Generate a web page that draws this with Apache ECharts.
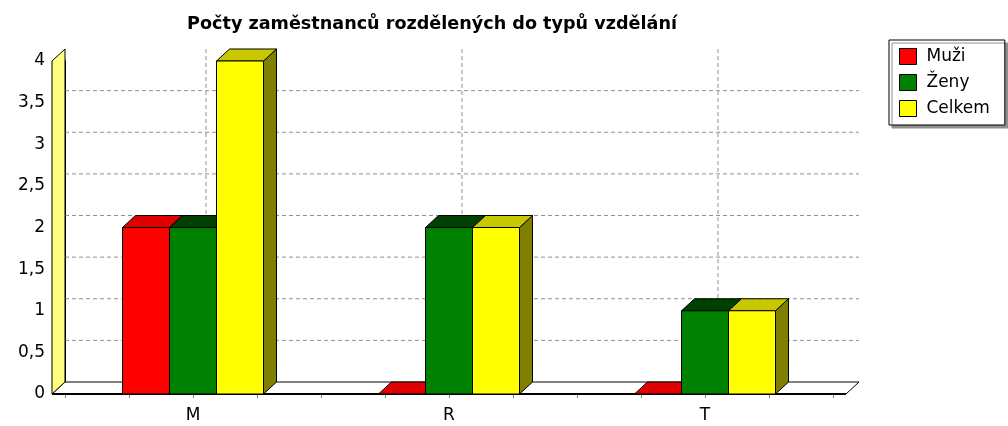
<!DOCTYPE html>
<html>
<head>
	<meta charset="utf-8" />
	<title>Počty zaměstnanců</title>
	<script src="https://cdn.jsdelivr.net/npm/echarts@6/dist/echarts.min.js"></script>
	<style>
		html, body { margin: 0; padding: 0; background: #fff; }
		#chartmain { width: 1008px; height: 426px; }
	</style>
</head>
<body>
	<div id="chartmain"></div>
</body>
<script type="text/javascript">
	// data
	var categories = ['M', 'R', 'T'];
	var muzi = [2, 0, 0];
	var zeny = [2, 2, 1];
	var celkem = [4, 2, 1];
	var gridValues = [0.5, 1, 1.5, 2, 2.5, 3, 3.5];

	var names = ['Muži', 'Ženy', 'Celkem'];
	var front = ['#ff0000', '#008000', '#ffff00'];
	var top_ = ['#e00000', '#004000', '#c8c800'];
	var side = ['#800000', '#004000', '#808000'];

	var D = 13, DY = 12;      // 3d depth
	var barFrac = 47 / 256;   // bar width in a band
	var font = 'DejaVu Sans';

	function fmt(v) { return String(v).replace('.', ','); }

	// floor, walls, grid on the back wall
	function renderDecor(params, api) {
		var cs = params.coordSys;
		var y0 = api.coord([0, 0])[1];
		var yTop = api.coord([0, 4])[1];
		var l = cs.x - D, r = cs.x + cs.width + D;
		var dash = { stroke: '#909090', lineWidth: 1, lineDash: [4, 3] };
		var kids = [];
		kids.push({ type: 'polygon', shape: { points: [[l, y0], [r, y0], [r + D, y0 - DY], [l + D, y0 - DY]] },
			style: { fill: '#fff', stroke: '#000', lineWidth: 1 } });
		gridValues.forEach(function (v) {
			var y = api.coord([0, v])[1] - DY;
			kids.push({ type: 'line', shape: { x1: l + D, y1: y, x2: r + D, y2: y }, style: dash });
		});
		categories.forEach(function (c, i) {
			var x = api.coord([i, 0])[0] + D;
			kids.push({ type: 'line', shape: { x1: x, y1: yTop - DY, x2: x, y2: y0 - DY }, style: dash });
		});
		kids.push({ type: 'polygon', shape: { points: [[l, y0], [l, yTop], [l + D, yTop - DY], [l + D, y0 - DY]] },
			style: { fill: '#ffff80', stroke: '#000', lineWidth: 1 } });
		kids.push({ type: 'line', shape: { x1: l, y1: y0, x2: r, y2: y0 }, style: { stroke: '#000', lineWidth: 2 } });
		return { type: 'group', children: kids };
	}

	function barRenderer(k) {
		return function (params, api) {
			var i = api.value(0), v = api.value(1);
			var p0 = api.coord([i, 0]), p1 = api.coord([i, v]);
			var bw = api.size([1, 0])[0] * barFrac;
			var x = p0[0] - 1.5 * bw + k * bw;
			var yb = p0[1], yt = p1[1];
			var st = { stroke: '#000', lineWidth: 1, lineJoin: 'round' };
			var kids = [
				{ type: 'polygon', shape: { points: [[x + bw, yt], [x + bw + D, yt - DY], [x + bw + D, yb - DY], [x + bw, yb]] },
					style: Object.assign({ fill: side[k] }, st) },
				{ type: 'polygon', shape: { points: [[x, yt], [x + bw, yt], [x + bw + D, yt - DY], [x + D, yt - DY]] },
					style: Object.assign({ fill: top_[k] }, st) }
			];
			if (yb - yt > 0) {
				kids.push({ type: 'rect', shape: { x: x, y: yt, width: bw, height: yb - yt },
					style: Object.assign({ fill: front[k] }, st) });
			}
			return { type: 'group', children: kids };
		};
	}

	var seriesData = [muzi, zeny, celkem];
	var series = [{
		name: 'decor', type: 'custom', renderItem: renderDecor, data: [[0, 0]],
		silent: true, z: 1
	}];
	seriesData.forEach(function (arr, k) {
		series.push({
			name: names[k], type: 'custom', z: 2,
			itemStyle: { color: front[k] },
			renderItem: barRenderer(k),
			data: arr.map(function (v, i) { return [i, v]; })
		});
	});

	var myChart = echarts.init(document.getElementById('chartmain'));
	var option = {
		animation: false,
		title: {
			text: 'Počty zaměstnanců rozdělených do typů vzdělání',
			left: 432, top: 15, padding: 0, textAlign: 'center',
			textStyle: { fontFamily: font, fontWeight: 'bold', fontSize: 17.6, color: '#000' }
		},
		legend: {
			data: names,
			orient: 'vertical', left: 889, top: 40,
			padding: [8, 15, 8, 10],
			itemWidth: 17, itemHeight: 16, itemGap: 9,
			icon: 'rect',
			itemStyle: { borderColor: '#000', borderWidth: 1 },
			textStyle: { fontFamily: font, fontSize: 17, lineHeight: 16, color: '#000', padding: [0, 0, 0, 5] },
			backgroundColor: '#fff', borderColor: '#000', borderWidth: 1, borderRadius: 0,
			shadowColor: '#909090', shadowOffsetX: 3, shadowOffsetY: 3, shadowBlur: 0.5
		},
		grid: { left: 65, right: 175, top: 61, bottom: 32 },
		xAxis: [{
			type: 'category', data: categories,
			axisLine: { show: false }, axisTick: { show: false },
			axisLabel: { fontFamily: font, fontSize: 17, color: '#000', margin: 13 }
		}, {
			type: 'value', min: 0, max: 12, interval: 1, position: 'bottom',
			axisLine: { show: false }, axisLabel: { show: false }, splitLine: { show: false },
			axisTick: { show: true, length: 4, lineStyle: { color: '#808080' } }
		}],
		yAxis: {
			type: 'value', min: 0, max: 4, interval: 0.5, offset: 13,
			axisLine: { show: true, lineStyle: { color: '#000', width: 2 } },
			axisTick: { show: true, length: 5, lineStyle: { color: '#333' } },
			minorTick: { show: true, splitNumber: 4, length: 3, lineStyle: { color: '#555' } },
			splitLine: { show: false },
			axisLabel: { fontFamily: font, fontSize: 17, color: '#000', margin: 7, formatter: fmt }
		},
		series: series
	};
	myChart.setOption(option);
</script>
</html>
